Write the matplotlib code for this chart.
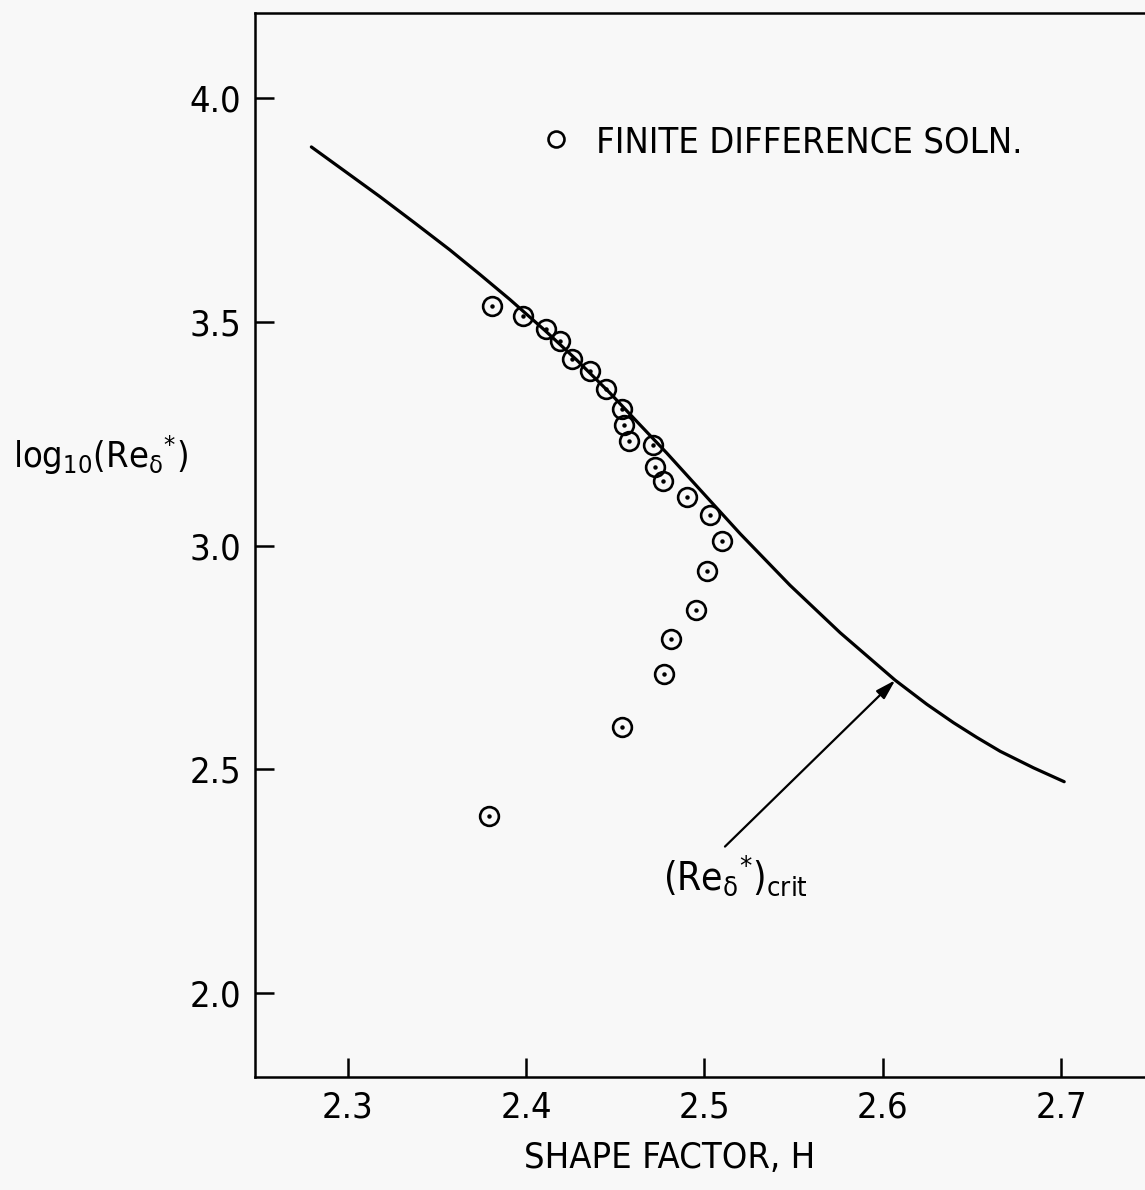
import matplotlib
matplotlib.use("Agg")
import matplotlib.pyplot as plt

plt.rcParams['font.family'] = ['DejaVu Sans']
plt.rcParams['font.stretch'] = 'condensed'
plt.rcParams['mathtext.fontset'] = 'custom'
plt.rcParams['mathtext.rm'] = 'DejaVu Sans:stretch=condensed'
plt.rcParams['mathtext.it'] = 'DejaVu Sans:stretch=condensed'

# critical Reynolds number curve vs shape factor
curve_h = [2.2796, 2.2983, 2.3180, 2.3376, 2.3572, 2.3741, 2.3909, 2.4105,
           2.4283, 2.4470, 2.4638, 2.4788, 2.4977, 2.5201, 2.5480, 2.5761,
           2.6069, 2.6247, 2.6396, 2.6527, 2.6658, 2.6845, 2.7017]
curve_log_re = [3.891, 3.837, 3.780, 3.721, 3.661, 3.606, 3.550, 3.481,
                3.415, 3.341, 3.270, 3.207, 3.124, 3.026, 2.911, 2.805,
                2.699, 2.645, 2.604, 2.571, 2.540, 2.503, 2.472]

# finite difference solution
fd_h = [2.381, 2.398, 2.411, 2.419, 2.426, 2.436, 2.445, 2.454, 2.455, 2.4575,
        2.471, 2.472, 2.477, 2.490, 2.503, 2.510, 2.5015, 2.495, 2.481, 2.4775,
        2.454, 2.379]
fd_log_re = [3.535, 3.513, 3.483, 3.457, 3.416, 3.390, 3.349, 3.305, 3.269, 3.234,
             3.224, 3.176, 3.144, 3.109, 3.068, 3.010, 2.944, 2.855, 2.792, 2.713,
             2.595, 2.395]

x_ticks = [2.3, 2.4, 2.5, 2.6, 2.7]
y_ticks = [2.0, 2.5, 3.0, 3.5, 4.0]

crit_point = (2.607, 2.699)
crit_label_pos = (2.5115, 2.327)

bg = '#f8f8f8'
fig = plt.figure(figsize=(11.45, 11.9), dpi=100, facecolor=bg)
ax = fig.add_axes([255 / 1145, 0.095, 1 - 255 / 1145, 0.8943])
ax.set_facecolor(bg)

ax.plot(curve_h, curve_log_re, color='black', lw=2.3, solid_capstyle='round',
        solid_joinstyle='round')
ax.plot(fd_h, fd_log_re, linestyle='none', marker='o', markersize=13.5,
        markerfacecolor='none', markeredgecolor='black', markeredgewidth=1.9,
        label='FINITE DIFFERENCE SOLN.')
ax.plot(fd_h, fd_log_re, linestyle='none', marker='o', markersize=2.2,
        color='black')

ax.annotate('', xy=crit_point, xytext=crit_label_pos,
            arrowprops=dict(arrowstyle='-|>,head_length=1.2,head_width=0.35',
                            color='black', lw=1.6, shrinkA=0, shrinkB=0))
ax.text(2.4767, 2.230, r'$\mathregular{(Re_{\delta}{}^{*})_{crit}}$',
        fontsize=28, ha='left', va='baseline')

leg = ax.legend(loc='upper left', bbox_to_anchor=(0.29, 0.925), frameon=False,
                fontsize=26, handlelength=0.6, handletextpad=0.8,
                markerscale=0.85)

ax.set_xlim(2.248, 2.747)
ax.set_ylim(1.812, 4.191)
ax.set_xticks(x_ticks)
ax.set_yticks(y_ticks)
ax.set_xticklabels([f'{v:.1f}' for v in x_ticks])
ax.set_yticklabels([f'{v:.1f}' for v in y_ticks])
ax.tick_params(direction='in', length=14, width=1.8, labelsize=26, pad=10)
ax.spines['right'].set_visible(False)
for side in ['left', 'bottom', 'top']:
    ax.spines[side].set_linewidth(1.8)

ax.set_xlabel('SHAPE FACTOR, H', fontsize=26)
ax.xaxis.set_label_coords(0.466, -0.06)
fig.text(13 / 1145, 1 - 468 / 1190, r'$\mathregular{log_{10}(Re_{\delta}{}^{*})}$',
         fontsize=26, ha='left', va='baseline')

fig.savefig('out.png', dpi=100, facecolor=bg)
